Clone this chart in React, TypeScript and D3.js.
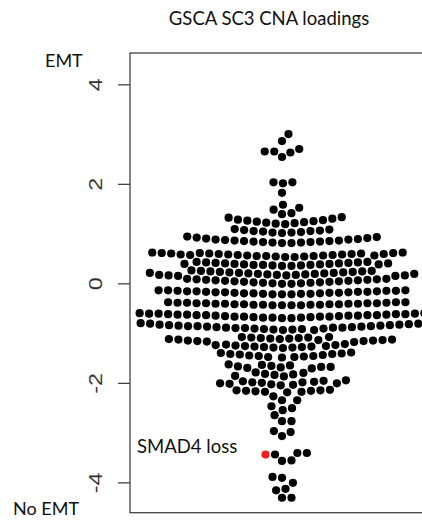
import React from "react";
import * as d3 from "d3";

const W = 422;
const H = 522;

const chartTitle = "GSCA SC3 CNA loadings";
const topLabel = "EMT";
const bottomLabel = "No EMT";
const highlightLabel = "SMAD4 loss";
const yTicks = [-4, -2, 0, 2, 4];

// CNA loadings, grouped by the visible rows (top to bottom)
const upperTail = [3.01, 2.87, 2.71, 2.66, 2.66, 2.64, 2.55, 2.04, 2.04, 2.02, 1.83, 1.59, 1.53, 1.49, 1.42, 1.40];
const rowsTop = [
  1.20, 1.21, 1.22, 1.23, 1.24, 1.25, 1.26, 1.27, 1.28, 1.29, 1.31, 1.33, 1.34,
  1.02, 1.03, 1.03, 1.04, 1.05, 1.06, 1.06, 1.07, 1.08, 1.09, 1.10,
  0.82, 0.82, 0.83, 0.83, 0.84, 0.84, 0.85, 0.85, 0.86, 0.86, 0.87, 0.87, 0.88, 0.89, 0.89, 0.90, 0.91, 0.92, 0.93, 0.94, 0.95,
];
const rowsUpper = [
  0.54, 0.54, 0.55, 0.55, 0.56, 0.56, 0.56, 0.57, 0.57, 0.57, 0.58, 0.58, 0.58,
  0.59, 0.59, 0.59, 0.60, 0.60, 0.60, 0.61, 0.61, 0.61, 0.62, 0.62, 0.62, 0.63, 0.63,
  0.36, 0.36, 0.37, 0.37, 0.38, 0.38, 0.38, 0.39, 0.39, 0.39, 0.40, 0.40, 0.40, 0.41, 0.41, 0.41,
  0.42, 0.42, 0.43, 0.43, 0.44, 0.44,
  0.16, 0.16, 0.17, 0.17, 0.17, 0.18, 0.18, 0.18, 0.19, 0.19, 0.20, 0.20, 0.20, 0.21, 0.21,
  0.22, 0.22, 0.22, 0.23, 0.23, 0.24, 0.24, 0.25, 0.25, 0.26, 0.26, 0.27,
  0.00, 0.00, 0.01, 0.01, 0.02, 0.02, 0.03, 0.03, 0.04, 0.04, 0.05, 0.05, 0.06, 0.06, 0.07,
  0.07, 0.08, 0.08, 0.09, 0.09, 0.10, 0.10,
];
const rowsMiddle = [
  -0.21, -0.21, -0.21, -0.20, -0.20, -0.20, -0.19, -0.19, -0.19, -0.18, -0.18, -0.18, -0.17, -0.17,
  -0.17, -0.16, -0.16, -0.16, -0.15, -0.15, -0.15, -0.14, -0.14, -0.14, -0.13, -0.13, -0.13,
  -0.43, -0.43, -0.43, -0.43, -0.42, -0.42, -0.42, -0.42, -0.41, -0.41, -0.41, -0.41, -0.40,
  -0.40, -0.40, -0.40, -0.39, -0.39, -0.39, -0.39, -0.38, -0.38, -0.38, -0.37, -0.37, -0.37,
  -0.69, -0.69, -0.68, -0.68, -0.68, -0.67, -0.67, -0.66, -0.66, -0.66, -0.66, -0.65, -0.65, -0.64, -0.64, -0.64,
  -0.63, -0.63, -0.63, -0.63, -0.62, -0.62, -0.62, -0.61, -0.61, -0.61, -0.60, -0.60, -0.60, -0.59, -0.59, -0.58,
  -0.93, -0.93, -0.92, -0.92, -0.91, -0.91, -0.90, -0.90, -0.89, -0.89, -0.88, -0.88, -0.88, -0.87, -0.87,
  -0.86, -0.86, -0.85, -0.85, -0.85, -0.84, -0.84, -0.83, -0.83, -0.82, -0.82, -0.81, -0.80, -0.80, -0.79,
];
const rowsLower = [
  -1.17, -1.16, -1.15, -1.15, -1.14, -1.14, -1.13, -1.13, -1.12, -1.12,
  -1.11, -1.11, -1.10, -1.10, -1.09, -1.09, -1.08, -1.08, -1.07, -1.07,
  -1.29, -1.28, -1.28, -1.27, -1.27, -1.26, -1.26, -1.25, -1.25, -1.24, -1.23, -1.23, -1.22, -1.21,
  -1.48, -1.47, -1.47, -1.46, -1.45, -1.45, -1.44, -1.43, -1.42, -1.41, -1.41, -1.40, -1.39, -1.38,
  -1.70, -1.69, -1.68, -1.67, -1.67, -1.66, -1.65, -1.64, -1.63, -1.62,
  -1.86, -1.85, -1.83, -1.82, -1.81, -1.79, -1.78,
  -2.04, -2.03, -2.02, -2.01, -2.00, -2.00, -1.99, -1.98, -1.98, -1.97, -1.96, -1.95, -1.94,
  -2.18, -2.17, -2.17, -2.16, -2.15, -2.15, -2.14, -2.14, -2.13,
];
const lowerTail = [
  -2.26, -2.34, -2.34, -2.46, -2.50, -2.54, -2.64, -2.76, -2.76, -2.96, -2.98, -3.06,
  -3.40, -3.40, -3.43, -3.55, -3.56, -3.88, -3.90, -4.00, -4.12, -4.15, -4.30, -4.30,
];
const smad4Loss = -3.43;

type Pt = { x: number; y: number; red: boolean };

// beeswarm "swarm" placement (ascending priority)
function swarm(values: number[], red: boolean[], yPos: (v: number) => number, s: number): Pt[] {
  const order = values.map((_, i) => i).sort((a, b) => values[a] - values[b] || a - b);
  const placed: Pt[] = [];
  for (const i of order) {
    const yi = yPos(values[i]);
    const near = placed.filter((p) => Math.abs(p.y - yi) < s);
    const cands: number[] = [0];
    for (const p of near) cands.push(p.x + Math.sqrt(s * s - (p.y - yi) ** 2));
    for (const p of near) cands.push(p.x - Math.sqrt(s * s - (p.y - yi) ** 2));
    let best = Infinity;
    for (const c of cands) {
      if (Math.abs(c) >= Math.abs(best) - 1e-9) continue;
      let ok = true;
      for (const p of near) {
        if ((p.x - c) ** 2 + (p.y - yi) ** 2 < s * s * 0.999) { ok = false; break; }
      }
      if (ok) best = c;
    }
    placed.push({ x: best, y: yi, red: red[i] });
  }
  return placed;
}

export default function App() {
  const y = d3.scaleLinear().domain([-4.6, 4.64]).range([512.7, 53]);
  const x = d3.scaleLinear().domain([0.5, 1.5]).range([130, 434]);
  const values = [...upperTail, ...rowsTop, ...rowsUpper, ...rowsMiddle, ...rowsLower, ...lowerTail, smad4Loss];
  const red = values.map((_, i) => i === values.length - 1);
  const pts = swarm(values, red, (v) => y(v), 9.5);
  const cx = x(1);
  const sans = "Lato, 'Open Sans', sans-serif";
  return (
    <svg width={W} height={H} style={{ position: "absolute", left: 0, top: 0, background: "#fff" }}>
      <text x={269} y={25} textAnchor="middle" fontFamily={sans} fontSize={18.5} fill="#111">{chartTitle}</text>
      <rect x={x(0.5)} y={y(4.64)} width={x(1.5) - x(0.5)} height={y(-4.6) - y(4.64)} fill="none" stroke="#444" strokeWidth={1.3} />
      {yTicks.map((t) => (
        <g key={t}>
          <line x1={118} x2={x(0.5)} y1={y(t)} y2={y(t)} stroke="#444" strokeWidth={1.3} />
          <text transform={`translate(101.7,${y(t)}) rotate(-90) scale(1.3,1)`} textAnchor="middle" fontFamily="'Liberation Sans', Arial, sans-serif" fontSize={18} fill="#333">{t}</text>
        </g>
      ))}
      {pts.filter((p) => !p.red).map((p, i) => (
        <circle key={i} cx={cx + p.x} cy={p.y} r={4.1} fill="#000" />
      ))}
      {pts.filter((p) => p.red).map((p, i) => (
        <circle key={"r" + i} cx={cx + p.x} cy={p.y} r={4.1} fill="#f01d1d" />
      ))}
      <text x={45} y={66.7} fontFamily={sans} fontSize={18} fill="#111">{topLabel}</text>
      <text x={13} y={515} fontFamily={sans} fontSize={18} fill="#111">{bottomLabel}</text>
      <text x={137} y={453} fontFamily={sans} fontSize={18.5} fill="#111">{highlightLabel}</text>
    </svg>
  );
}
